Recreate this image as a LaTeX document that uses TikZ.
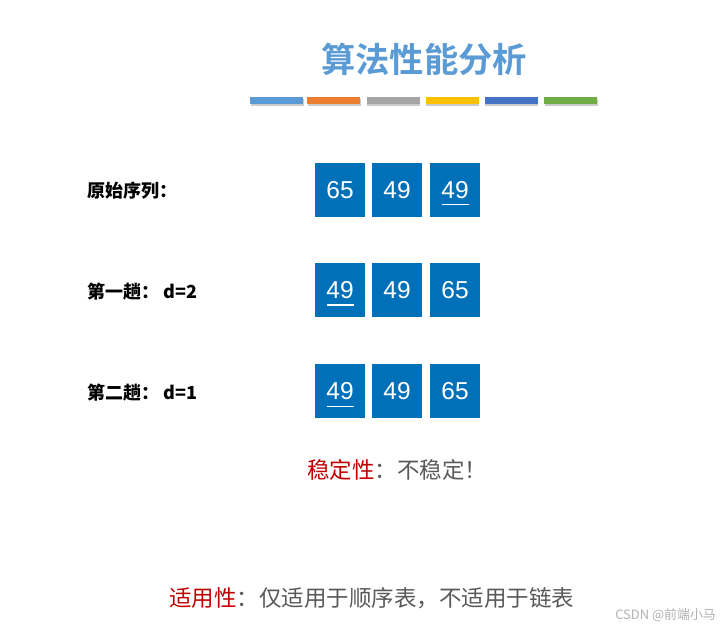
\documentclass[tikz,border=0pt]{standalone}
\usepackage{fontspec}
\setmainfont{Liberation Sans}
\newfontfamily\cjk{Noto Sans CJK SC}
\newfontfamily\cjkb{Noto Sans CJK SC Bold}
\usetikzlibrary{shadows}
\definecolor{titleblue}{HTML}{5B9BD5}
\definecolor{boxblue}{HTML}{0071B9}
\definecolor{darkred}{HTML}{C00000}
\definecolor{txtgray}{HTML}{595959}
\definecolor{b1}{HTML}{5B9BD5}
\definecolor{b2}{HTML}{ED7D31}
\definecolor{b3}{HTML}{A5A5A5}
\definecolor{b4}{HTML}{FFC000}
\definecolor{b5}{HTML}{4472C4}
\definecolor{b6}{HTML}{70AD47}
\tikzset{
  numbox/.style={fill=boxblue, text=white, minimum width=50pt, minimum height=54pt, inner sep=0pt, font=\fontsize{24.5}{26}\selectfont},
  rowlabel/.style={anchor=west, inner sep=0pt, font=\fontsize{18}{20}\selectfont\bfseries},
  bar/.style={minimum width=53pt, minimum height=7.5pt, inner sep=0pt, drop shadow={shadow xshift=0.8pt, shadow yshift=-1.8pt, opacity=0.5, fill=black!40}},
  uline/.style={white, line width=1pt}
}
\begin{document}
\begin{tikzpicture}[x=1pt, y=-1pt]
\useasboundingbox[fill=white] (0,0) rectangle (728,628);
% title
\node[text=titleblue, font=\fontsize{34.3}{36}\selectfont\cjkb] (title) at (424,59) {算法性能分析};
% colour bars
\node[bar, fill=b1] (bar1) at (276.5,100.5) {};
\node[bar, fill=b2] (bar2) at (333.5,100.5) {};
\node[bar, fill=b3] (bar3) at (393,100.5) {};
\node[bar, fill=b4] (bar4) at (452,100.5) {};
\node[bar, fill=b5] (bar5) at (511,100.5) {};
\node[bar, fill=b6] (bar6) at (570.5,100.5) {};
% row labels
\node[rowlabel] (l1) at (87,190.5) {\cjkb 原始序列：};
\node[rowlabel] (l2) at (87,292) {\cjkb 第一趟：\ d=2};
\node[rowlabel] (l3) at (87,393) {\cjkb 第二趟：\ d=1};
% row 1
\node[numbox] (a1) at (340,190.3) {65};
\node[numbox] (a2) at (397,190.3) {49};
\node[numbox] (a3) at (455,190.3) {49};
% row 2
\node[numbox] (b1n) at (340,290.3) {49};
\node[numbox] (b2n) at (397,290.3) {49};
\node[numbox] (b3n) at (455,290.3) {65};
% row 3
\node[numbox] (c1) at (340,391.3) {49};
\node[numbox] (c2) at (397,391.3) {49};
\node[numbox] (c3) at (455,391.3) {65};
% underlines
\draw[uline] ([xshift=-13.5pt, yshift=-14.7pt]a3.center) -- ([xshift=13.5pt, yshift=-14.7pt]a3.center);
\draw[uline] ([xshift=-13.5pt, yshift=-14.7pt]b1n.center) -- ([xshift=13.5pt, yshift=-14.7pt]b1n.center);
\draw[uline] ([xshift=-13.5pt, yshift=-14.7pt]c1.center) -- ([xshift=13.5pt, yshift=-14.7pt]c1.center);
% stability
\node[anchor=west, inner sep=0pt, font=\fontsize{22.5}{24}\selectfont\cjk] (stab) at (307,470) {\textcolor{darkred}{稳定性}\textcolor{txtgray}{：不稳定！}};
% applicability
\node[anchor=west, inner sep=0pt, font=\fontsize{22.5}{24}\selectfont\cjk] (appl) at (169,598) {\textcolor{darkred}{适用性}\textcolor{txtgray}{：仅适用于顺序表，不适用于链表}};
% watermark
\node[anchor=east, inner sep=0pt, text=black!30, font=\fontsize{12.9}{14}\selectfont\cjk] (wm) at (716,615) {CSDN @前端小马};
\end{tikzpicture}
\end{document}
